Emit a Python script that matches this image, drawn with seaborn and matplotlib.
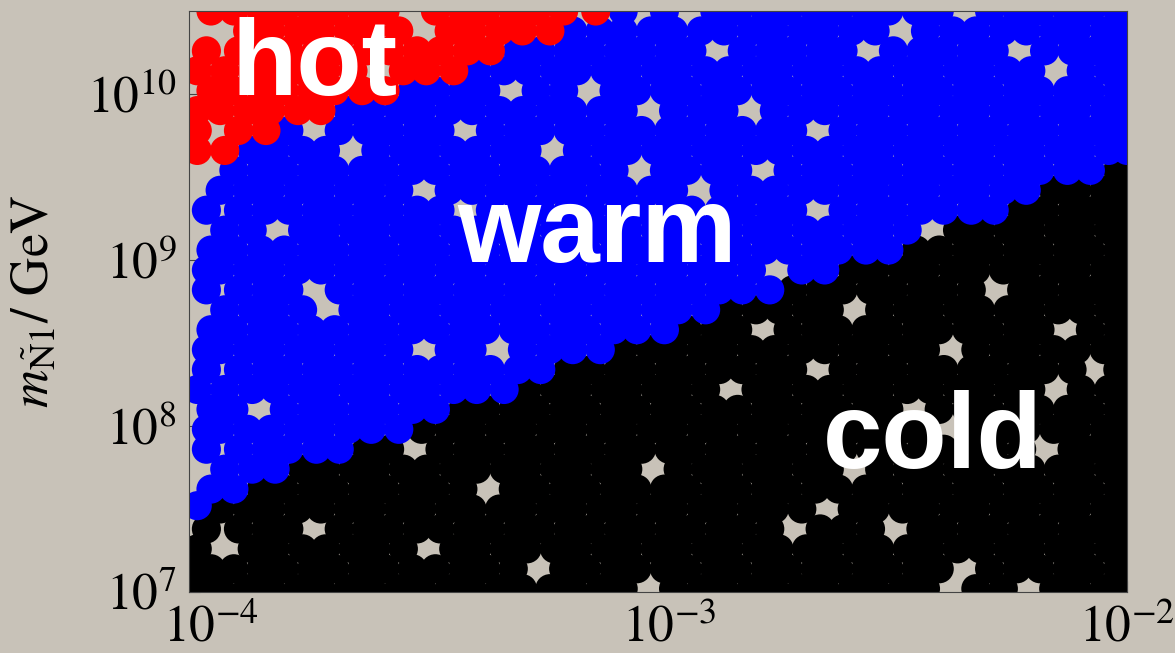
import matplotlib
matplotlib.use("Agg")
import matplotlib.pyplot as plt
from matplotlib.ticker import NullLocator
import numpy as np
import pandas as pd
import seaborn as sns

# Scan points, grouped in rows: (log10 m_N1 [GeV], [log10 x, ...])
cold_rows = [
    (7.02, [-4.03, -3.98, -3.92, -3.87, -3.81, -3.76, -3.70, -3.65, -3.59, -3.54, -3.48, -3.43, -3.37, -3.32, -3.26, -3.21, -3.15, -3.10, -2.99, -2.93, -2.88, -2.82, -2.77, -2.71, -2.66, -2.60, -2.55, -2.49, -2.44, -2.33, -2.27, -2.16, -2.11, -2.05, -2.00]),
    (7.14, [-4.03, -4.00, -3.95, -3.89, -3.84, -3.78, -3.73, -3.67, -3.62, -3.56, -3.51, -3.45, -3.40, -3.34, -3.23, -3.18, -3.12, -3.07, -3.01, -2.96, -2.90, -2.85, -2.79, -2.74, -2.68, -2.63, -2.57, -2.52, -2.46, -2.41, -2.30, -2.24, -2.19, -2.13, -2.08, -2.02]),
    (7.26, [-4.03, -3.91, -3.86, -3.80, -3.75, -3.69, -3.64, -3.58, -3.47, -3.42, -3.36, -3.31, -3.25, -3.20, -3.14, -3.09, -3.03, -2.98, -2.92, -2.87, -2.81, -2.76, -2.70, -2.65, -2.59, -2.54, -2.48, -2.43, -2.37, -2.32, -2.26, -2.21, -2.15, -2.10, -2.04, -2.00]),
    (7.38, [-4.01, -3.94, -3.88, -3.83, -3.72, -3.66, -3.61, -3.55, -3.50, -3.44, -3.39, -3.33, -3.28, -3.22, -3.17, -3.11, -3.06, -3.00, -2.95, -2.89, -2.84, -2.78, -2.67, -2.62, -2.56, -2.45, -2.40, -2.34, -2.29, -2.23, -2.18, -2.12, -2.07, -2.02]),
    (7.50, [-3.98, -3.92, -3.87, -3.81, -3.76, -3.70, -3.65, -3.59, -3.54, -3.48, -3.43, -3.37, -3.32, -3.26, -3.21, -3.15, -3.10, -3.04, -2.99, -2.93, -2.88, -2.82, -2.77, -2.71, -2.60, -2.55, -2.49, -2.44, -2.38, -2.33, -2.27, -2.22, -2.16, -2.11, -2.05, -2.00]),
    (7.62, [-3.89, -3.84, -3.78, -3.73, -3.67, -3.62, -3.56, -3.51, -3.45, -3.34, -3.29, -3.23, -3.18, -3.12, -3.07, -3.01, -2.96, -2.90, -2.85, -2.79, -2.74, -2.68, -2.63, -2.57, -2.52, -2.46, -2.41, -2.35, -2.30, -2.24, -2.19, -2.13, -2.08, -2.02]),
    (7.74, [-3.80, -3.75, -3.69, -3.64, -3.58, -3.53, -3.47, -3.42, -3.36, -3.31, -3.25, -3.20, -3.14, -3.09, -2.98, -2.92, -2.87, -2.81, -2.76, -2.70, -2.65, -2.54, -2.48, -2.43, -2.37, -2.32, -2.26, -2.21, -2.15, -2.10, -2.04, -2.00]),
    (7.86, [-3.66, -3.61, -3.50, -3.44, -3.39, -3.33, -3.28, -3.22, -3.17, -3.11, -3.06, -3.00, -2.95, -2.89, -2.84, -2.78, -2.73, -2.67, -2.62, -2.56, -2.51, -2.45, -2.40, -2.34, -2.29, -2.23, -2.12, -2.07, -2.02]),
    (7.98, [-3.54, -3.48, -3.43, -3.37, -3.32, -3.26, -3.21, -3.15, -3.10, -3.04, -2.99, -2.93, -2.88, -2.82, -2.77, -2.71, -2.66, -2.60, -2.55, -2.49, -2.44, -2.33, -2.27, -2.22, -2.16, -2.11, -2.05, -2.00]),
    (8.10, [-3.45, -3.40, -3.34, -3.29, -3.23, -3.18, -3.12, -3.07, -3.01, -2.96, -2.90, -2.85, -2.79, -2.74, -2.68, -2.63, -2.57, -2.52, -2.41, -2.35, -2.30, -2.24, -2.19, -2.13, -2.08, -2.02]),
    (8.22, [-3.31, -3.25, -3.20, -3.14, -3.09, -3.03, -2.98, -2.92, -2.81, -2.76, -2.70, -2.65, -2.59, -2.54, -2.48, -2.43, -2.37, -2.32, -2.26, -2.21, -2.10, -2.04, -2.00]),
    (8.34, [-3.22, -3.17, -3.11, -3.06, -3.00, -2.95, -2.89, -2.84, -2.78, -2.73, -2.62, -2.56, -2.51, -2.45, -2.40, -2.34, -2.29, -2.23, -2.18, -2.12, -2.02]),
    (8.46, [-3.10, -3.04, -2.99, -2.93, -2.88, -2.82, -2.77, -2.71, -2.66, -2.60, -2.55, -2.49, -2.44, -2.33, -2.27, -2.22, -2.16, -2.11, -2.05, -2.00]),
    (8.58, [-2.96, -2.90, -2.85, -2.74, -2.68, -2.63, -2.57, -2.52, -2.46, -2.41, -2.35, -2.30, -2.24, -2.19, -2.08, -2.02]),
    (8.70, [-2.87, -2.81, -2.76, -2.70, -2.65, -2.54, -2.48, -2.43, -2.37, -2.32, -2.26, -2.21, -2.15, -2.10, -2.04, -2.00]),
    (8.82, [-2.73, -2.67, -2.62, -2.56, -2.51, -2.45, -2.40, -2.34, -2.23, -2.18, -2.12, -2.07, -2.02]),
    (8.94, [-2.60, -2.55, -2.49, -2.44, -2.38, -2.33, -2.27, -2.22, -2.16, -2.11, -2.05, -2.00]),
    (9.06, [-2.46, -2.41, -2.35, -2.30, -2.24, -2.19, -2.13, -2.08, -2.02]),
    (9.18, [-2.37, -2.32, -2.26, -2.21, -2.15, -2.10, -2.04, -2.00]),
    (9.30, [-2.23, -2.18, -2.12, -2.07, -2.02]),
    (9.42, [-2.16, -2.11, -2.05, -2.00]),
    (9.54, [-2.02]),
]

warm_rows = [
    (7.52, [-4.03]),
    (7.62, [-4.00, -3.95]),
    (7.74, [-3.97, -3.91, -3.86]),
    (7.86, [-4.01, -3.94, -3.88, -3.83, -3.77, -3.72]),
    (7.98, [-4.01, -3.98, -3.92, -3.87, -3.81, -3.76, -3.70, -3.65, -3.59]),
    (8.10, [-4.00, -3.95, -3.84, -3.78, -3.73, -3.67, -3.62, -3.56, -3.51]),
    (8.22, [-4.03, -3.97, -3.91, -3.86, -3.80, -3.75, -3.69, -3.64, -3.58, -3.53, -3.47, -3.42, -3.36]),
    (8.34, [-4.01, -3.94, -3.88, -3.83, -3.77, -3.72, -3.66, -3.61, -3.55, -3.50, -3.44, -3.39, -3.33, -3.28]),
    (8.46, [-4.01, -3.98, -3.92, -3.87, -3.81, -3.76, -3.70, -3.65, -3.59, -3.48, -3.43, -3.32, -3.26, -3.21, -3.15]),
    (8.58, [-4.00, -3.95, -3.89, -3.84, -3.78, -3.73, -3.67, -3.62, -3.56, -3.51, -3.45, -3.40, -3.34, -3.29, -3.23, -3.18, -3.12, -3.07, -3.01]),
    (8.70, [-3.97, -3.91, -3.86, -3.80, -3.69, -3.64, -3.58, -3.53, -3.47, -3.42, -3.36, -3.31, -3.25, -3.20, -3.14, -3.09, -3.03, -2.98, -2.92]),
    (8.82, [-4.01, -3.94, -3.88, -3.83, -3.72, -3.66, -3.61, -3.55, -3.50, -3.44, -3.39, -3.33, -3.28, -3.22, -3.17, -3.11, -3.06, -3.00, -2.95, -2.89, -2.84, -2.78]),
    (8.94, [-4.01, -3.98, -3.92, -3.87, -3.81, -3.76, -3.70, -3.65, -3.59, -3.54, -3.48, -3.43, -3.37, -3.32, -3.26, -3.21, -3.15, -3.10, -3.04, -2.99, -2.93, -2.88, -2.82, -2.71, -2.66]),
    (9.06, [-4.00, -3.95, -3.89, -3.84, -3.78, -3.73, -3.67, -3.62, -3.56, -3.51, -3.45, -3.40, -3.34, -3.29, -3.23, -3.18, -3.12, -3.07, -3.01, -2.96, -2.90, -2.85, -2.79, -2.74, -2.68, -2.63, -2.57, -2.52]),
    (9.18, [-3.97, -3.91, -3.80, -3.75, -3.69, -3.64, -3.58, -3.53, -3.47, -3.42, -3.36, -3.31, -3.25, -3.20, -3.14, -3.09, -3.03, -2.98, -2.92, -2.87, -2.81, -2.76, -2.70, -2.65, -2.59, -2.54, -2.48]),
    (9.30, [-4.01, -3.94, -3.88, -3.83, -3.77, -3.72, -3.66, -3.61, -3.55, -3.50, -3.39, -3.33, -3.28, -3.22, -3.17, -3.11, -3.06, -3.00, -2.95, -2.89, -2.84, -2.78, -2.73, -2.62, -2.56, -2.51, -2.45, -2.40, -2.34, -2.29]),
    (9.42, [-3.98, -3.92, -3.87, -3.81, -3.76, -3.70, -3.65, -3.59, -3.48, -3.43, -3.37, -3.32, -3.26, -3.21, -3.15, -3.10, -3.04, -2.99, -2.88, -2.82, -2.77, -2.71, -2.66, -2.60, -2.55, -2.49, -2.44, -2.38, -2.33, -2.27, -2.22]),
    (9.54, [-3.95, -3.89, -3.84, -3.78, -3.73, -3.67, -3.62, -3.56, -3.51, -3.45, -3.40, -3.34, -3.29, -3.23, -3.18, -3.12, -3.01, -2.96, -2.90, -2.85, -2.74, -2.68, -2.63, -2.57, -2.52, -2.46, -2.41, -2.35, -2.30, -2.24, -2.19, -2.13, -2.08]),
    (9.66, [-3.91, -3.86, -3.80, -3.75, -3.64, -3.58, -3.53, -3.47, -3.42, -3.36, -3.31, -3.20, -3.14, -3.09, -3.03, -2.98, -2.92, -2.87, -2.81, -2.76, -2.70, -2.65, -2.59, -2.54, -2.48, -2.43, -2.37, -2.32, -2.26, -2.21, -2.15, -2.10, -2.04, -2.00]),
    (9.78, [-3.83, -3.72, -3.66, -3.61, -3.55, -3.50, -3.39, -3.33, -3.28, -3.22, -3.17, -3.11, -3.06, -3.00, -2.95, -2.89, -2.84, -2.78, -2.73, -2.62, -2.56, -2.51, -2.45, -2.40, -2.34, -2.29, -2.23, -2.18, -2.12, -2.07, -2.02]),
    (9.90, [-3.70, -3.65, -3.59, -3.54, -3.48, -3.43, -3.37, -3.32, -3.26, -3.21, -3.15, -3.10, -2.99, -2.93, -2.88, -2.77, -2.71, -2.66, -2.60, -2.55, -2.49, -2.44, -2.38, -2.33, -2.27, -2.22, -2.16, -2.11, -2.05, -2.00]),
    (10.02, [-3.56, -3.51, -3.45, -3.40, -3.29, -3.23, -3.12, -3.07, -3.01, -2.96, -2.90, -2.85, -2.79, -2.74, -2.68, -2.63, -2.57, -2.52, -2.46, -2.41, -2.35, -2.30, -2.24, -2.19, -2.13, -2.08, -2.02]),
    (10.14, [-3.42, -3.36, -3.31, -3.25, -3.20, -3.14, -3.09, -3.03, -2.98, -2.92, -2.87, -2.81, -2.76, -2.70, -2.65, -2.59, -2.54, -2.48, -2.43, -2.37, -2.32, -2.26, -2.21, -2.10, -2.04, -2.00]),
    (10.26, [-3.33, -3.28, -3.22, -3.17, -3.11, -3.06, -3.00, -2.95, -2.84, -2.78, -2.73, -2.67, -2.62, -2.51, -2.45, -2.40, -2.34, -2.29, -2.18, -2.12, -2.07, -2.02]),
    (10.38, [-3.21, -3.15, -3.10, -3.04, -2.99, -2.93, -2.88, -2.82, -2.77, -2.71, -2.66, -2.60, -2.55, -2.44, -2.38, -2.33, -2.27, -2.22, -2.16, -2.11, -2.05, -2.00]),
    (10.50, [-3.10, -3.01, -2.90, -2.85, -2.79, -2.74, -2.68, -2.63, -2.57, -2.52, -2.46, -2.41, -2.30, -2.24, -2.19, -2.13, -2.08, -2.02]),
]

hot_rows = [
    (9.66, [-4.03, -3.97]),
    (9.78, [-4.03, -3.94, -3.88]),
    (9.90, [-4.03, -3.98, -3.92, -3.87, -3.81, -3.76]),
    (10.02, [-4.00, -3.95, -3.89, -3.84, -3.78, -3.73, -3.67, -3.62]),
    (10.14, [-4.03, -3.97, -3.91, -3.86, -3.80, -3.75, -3.69, -3.58, -3.53, -3.47]),
    (10.26, [-4.01, -3.94, -3.88, -3.83, -3.77, -3.72, -3.66, -3.61, -3.55, -3.50, -3.44, -3.39]),
    (10.38, [-3.92, -3.87, -3.81, -3.76, -3.70, -3.65, -3.59, -3.48, -3.43, -3.37, -3.32, -3.26]),
    (10.50, [-4.00, -3.95, -3.89, -3.84, -3.78, -3.73, -3.67, -3.62, -3.51, -3.45, -3.40, -3.34, -3.29, -3.23, -3.16]),
]

phase_colors = {"cold": "#000000", "warm": "#0000ff", "hot": "#ff0000"}
region_labels = [("hot", 0.045, 0.855), ("warm", 0.286, 0.568), ("cold", 0.676, 0.213)]

x_ticks = [1e-4, 1e-3, 1e-2]
x_ticklabels = [r"$10^{-4}$", r"$10^{-3}$", r"$10^{-2}$"]
y_ticks = [1e7, 1e8, 1e9, 1e10]
y_ticklabels = [r"$10^{7}$", r"$10^{8}$", r"$10^{9}$", r"$10^{10}$"]
x_range = (10 ** -4.048, 1e-2)
y_range = (1e7, 10 ** 10.5)
y_title = r"$m_{\tilde{\mathrm{N}}\mathrm{1}}/\ \mathrm{GeV}$"


def rows_to_frame(rows, phase):
    recs = [(10.0 ** lx, 10.0 ** lm, phase) for lm, xs in rows for lx in xs]
    return pd.DataFrame(recs, columns=["x", "m", "phase"])


points = pd.concat(
    [rows_to_frame(cold_rows, "cold"),
     rows_to_frame(warm_rows, "warm"),
     rows_to_frame(hot_rows, "hot")],
    ignore_index=True,
)

sns.set_style("ticks")
bg = "#c8c2b8"
plt.rcParams["font.family"] = ["STIXGeneral", "DejaVu Sans"]
plt.rcParams["mathtext.fontset"] = "stix"

fig = plt.figure(figsize=(11.75, 6.53), dpi=100, facecolor=bg)
ax = fig.add_axes([189 / 1175, 61 / 653, 938 / 1175, 581 / 653])
ax.set_facecolor(bg)
ax.set_axisbelow(True)

sns.scatterplot(
    data=points, x="x", y="m", hue="phase", palette=phase_colors,
    s=440, linewidth=0, edgecolor="none", legend=False, ax=ax,
)

ax.set_xscale("log")
ax.set_yscale("log")
ax.set_xlim(*x_range)
ax.set_ylim(*y_range)
ax.set_xticks(x_ticks)
ax.set_xticklabels(x_ticklabels)
ax.set_yticks(y_ticks)
ax.set_yticklabels(y_ticklabels)
ax.xaxis.set_minor_locator(NullLocator())
ax.yaxis.set_minor_locator(NullLocator())
ax.tick_params(axis="both", which="major", direction="in", length=8, width=0.8,
               color="#444444", labelcolor="black", labelsize=37,
               top=False, right=False)
ax.tick_params(axis="y", pad=9)
ax.tick_params(axis="x", pad=9)

for side in ["left", "right", "top", "bottom"]:
    ax.spines[side].set_visible(True)
    ax.spines[side].set_color("#444444")
    ax.spines[side].set_linewidth(0.8)

ax.set_xlabel("")
ax.set_ylabel(y_title, fontsize=38, color="black")
ax.yaxis.set_label_coords(-0.138, 0.5)

for word, tx, ty in region_labels:
    ax.text(tx, ty, word, transform=ax.transAxes, color="white",
            fontsize=77, fontweight="bold", family=["Liberation Sans", "DejaVu Sans"],
            ha="left", va="baseline", zorder=5)

fig.savefig("out.png", dpi=100, facecolor=bg)
